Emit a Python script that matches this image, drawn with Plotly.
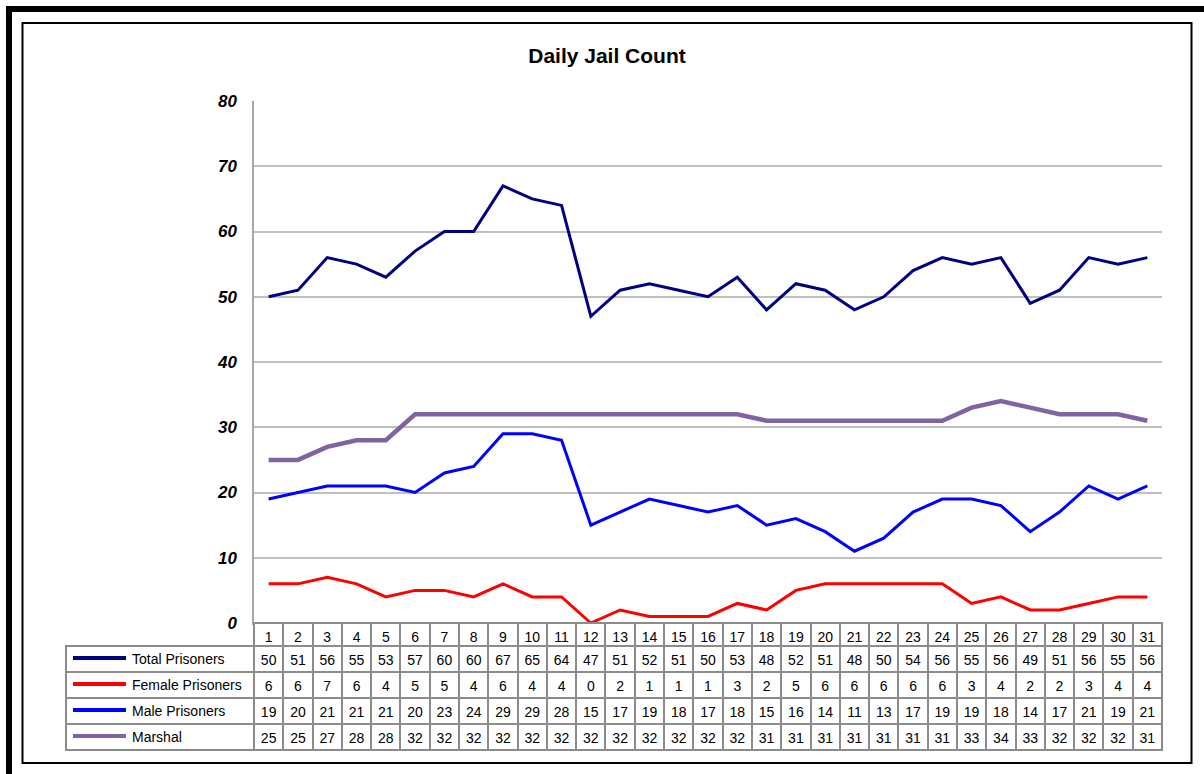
import plotly.graph_objects as go

days = list(range(1, 32))
total_prisoners = [50, 51, 56, 55, 53, 57, 60, 60, 67, 65, 64, 47, 51, 52, 51, 50, 53, 48, 52, 51, 48, 50, 54, 56, 55, 56, 49, 51, 56, 55, 56]
female_prisoners = [6, 6, 7, 6, 4, 5, 5, 4, 6, 4, 4, 0, 2, 1, 1, 1, 3, 2, 5, 6, 6, 6, 6, 6, 3, 4, 2, 2, 3, 4, 4]
male_prisoners = [19, 20, 21, 21, 21, 20, 23, 24, 29, 29, 28, 15, 17, 19, 18, 17, 18, 15, 16, 14, 11, 13, 17, 19, 19, 18, 14, 17, 21, 19, 21]
marshal = [25, 25, 27, 28, 28, 32, 32, 32, 32, 32, 32, 32, 32, 32, 32, 32, 32, 31, 31, 31, 31, 31, 31, 31, 33, 34, 33, 32, 32, 32, 31]

series_names = ["Total Prisoners", "Female Prisoners", "Male Prisoners", "Marshal"]
series_values = [total_prisoners, female_prisoners, male_prisoners, marshal]
series_colors = ["#000080", "#FF0000", "#0000FF", "#8064A2"]
series_widths = [3, 3, 3, 4.5]

W, H = 1204, 774
FONT = "Liberation Sans, Arial, sans-serif"
CLEAR = "rgba(0,0,0,0)"

def px_x(p):
    return p / W

def px_y(p):
    return 1 - p / H

fig = go.Figure()
for name, vals, col, wd in zip(series_names, series_values, series_colors, series_widths):
    fig.add_trace(go.Scatter(x=days, y=vals, mode="lines", name=name,
                             line=dict(color=col, width=wd), showlegend=False))

# data table under the chart
ROW_TOP, HEAD_H, ROW_H = 623, 23, 26
cols = [[""] * len(series_names)] + [[str(v[i]) for v in series_values] for i in range(31)]
header_vals = [""] + [str(d) for d in days]
grid = "#8c8c8c"
fig.add_trace(go.Table(
    domain=dict(x=[px_x(66), px_x(1162)],
                y=[px_y(ROW_TOP + HEAD_H + ROW_H * len(series_names) + 1), px_y(ROW_TOP)]),
    columnwidth=[188] + [908 / 31] * 31,
    header=dict(values=header_vals, height=HEAD_H,
                fill=dict(color=[CLEAR] + ["white"] * 31),
                line=dict(color=[CLEAR] + [grid] * 31, width=2),
                align="center",
                font=dict(family=FONT, size=14, color="black")),
    cells=dict(values=cols, height=ROW_H,
               fill=dict(color="white"),
               line=dict(color=grid, width=2),
               align="center",
               font=dict(family=FONT, size=14, color="black")),
))

# legend keys inside the first table column
shapes = []
annotations = []
for k, (name, col, wd) in enumerate(zip(series_names, series_colors, series_widths)):
    yc = ROW_TOP + HEAD_H + ROW_H * k + ROW_H / 2
    shapes.append(dict(type="line", xref="paper", yref="paper",
                       x0=px_x(73), x1=px_x(126), y0=px_y(yc - 1), y1=px_y(yc - 1),
                       line=dict(color=col, width=4)))
    annotations.append(dict(text=name, xref="paper", yref="paper",
                            x=px_x(130), y=px_y(yc), xanchor="left", yanchor="middle",
                            showarrow=False, font=dict(family=FONT, size=14, color="black")))

shapes += [
    dict(type="rect", xref="paper", yref="paper",
         x0=px_x(9), x1=px_x(1215), y0=px_y(790), y1=px_y(9),
         line=dict(color="black", width=6)),
    dict(type="rect", xref="paper", yref="paper",
         x0=px_x(22.5), x1=px_x(1191.5), y0=px_y(763), y1=px_y(23),
         line=dict(color="black", width=2)),
]

fig.update_layout(
    width=W, height=H,
    margin=dict(l=0, r=0, t=0, b=0, autoexpand=False),
    paper_bgcolor="white", plot_bgcolor="white",
    title=dict(text="<b>Daily Jail Count</b>", x=px_x(607), xanchor="center",
               y=px_y(56), yanchor="middle",
               font=dict(family=FONT, size=21, color="black")),
    xaxis=dict(domain=[px_x(254), px_x(1162)], range=[0.5, 31.5], automargin=False,
               showticklabels=False, showgrid=False, zeroline=False,
               showline=True, linecolor="#a6a6a6", linewidth=1.5, ticks=""),
    yaxis=dict(domain=[px_y(623), px_y(101)], range=[0, 80], dtick=10, automargin=False,
               showgrid=True, gridcolor="#c0c0c0", gridwidth=1.5,
               zeroline=False, showline=True, linecolor="#a6a6a6", linewidth=1.5,
               ticks="", ticklabelstandoff=12,
               tickfont=dict(family=FONT, size=17, color="black", weight="bold", style="italic")),
    shapes=shapes,
    annotations=annotations,
)

fig.write_html("out.html", config={"displayModeBar": False},
               post_script="document.body.style.margin='0';document.body.style.overflow='hidden';")
